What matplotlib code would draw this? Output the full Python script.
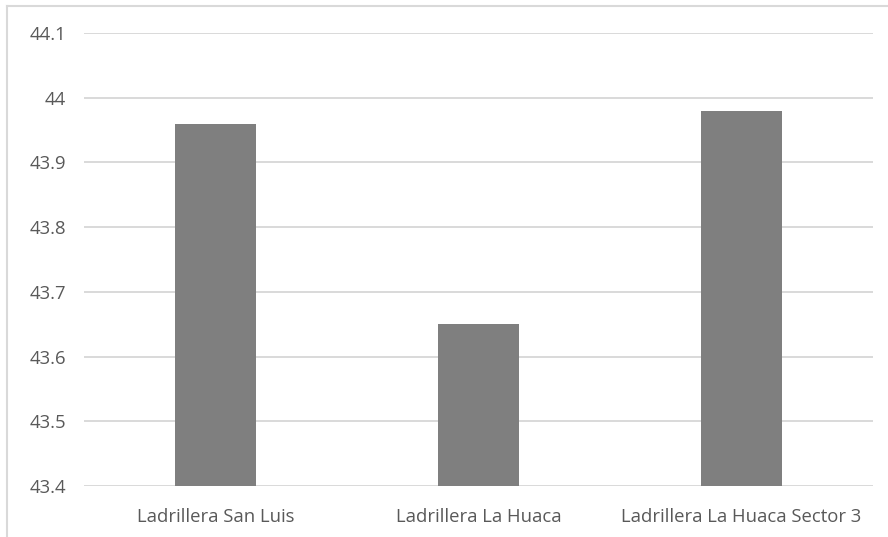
import matplotlib
matplotlib.use("Agg")
import matplotlib.pyplot as plt
from matplotlib.lines import Line2D

categories = ["Ladrillera San Luis", "Ladrillera La Huaca", "Ladrillera La Huaca Sector 3"]
values = [43.96, 43.65, 43.98]
yticks = [43.4, 43.5, 43.6, 43.7, 43.8, 43.9, 44.0, 44.1]
ytick_labels = ["43.4", "43.5", "43.6", "43.7", "43.8", "43.9", "44", "44.1"]

plt.rcParams['font.family'] = ['Open Sans', 'DejaVu Sans']

fig = plt.figure(figsize=(8.88, 5.37), dpi=100)
ax = fig.add_axes([84 / 888, 1 - 486 / 537, (873 - 84) / 888, (486 - 33) / 537])

x = range(len(categories))
ax.bar(x, values, width=0.31, color="#7f7f7f", zorder=3)

ax.set_xlim(-0.5, len(categories) - 0.5)
ax.set_ylim(43.4, 44.1)
ax.set_yticks(yticks)
ax.set_yticklabels(ytick_labels)
ax.set_xticks(list(x))
ax.set_xticklabels(categories)

ax.grid(axis="y", color="#d9d9d9", linewidth=1.4, zorder=0)
for s in ax.spines.values():
    s.set_visible(False)
ax.tick_params(axis="both", length=0, colors="#595959", labelsize=13.3)
ax.tick_params(axis="y", pad=13)
ax.tick_params(axis="x", pad=16)

# outer chart border (only left and top visible in the crop)
fig.add_artist(Line2D([7 / 888, 7 / 888], [0, 1 - 6 / 537], transform=fig.transFigure,
                      color="#d9d9d9", linewidth=1.5))
fig.add_artist(Line2D([7 / 888, 1], [1 - 6 / 537, 1 - 6 / 537], transform=fig.transFigure,
                      color="#d9d9d9", linewidth=1.5))

fig.savefig("out.png", dpi=100)
